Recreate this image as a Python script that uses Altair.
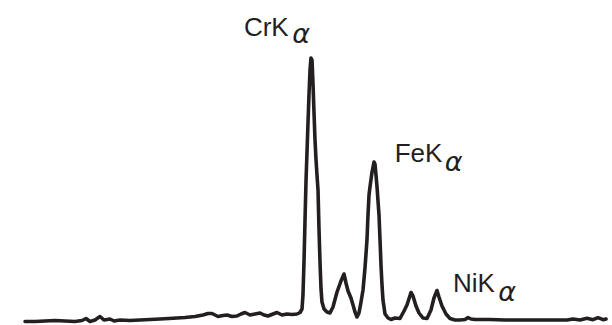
import altair as alt
import pandas as pd

# X-ray fluorescence spectrum: energy (keV) vs intensity (a.u.)
energy = [
    0.942, 1.098, 1.254, 1.410, 1.567, 1.723, 1.832, 1.895, 1.957, 2.035,
    2.114, 2.176, 2.270, 2.332, 2.426, 2.582, 2.739, 2.895, 3.051, 3.254,
    3.442, 3.598, 3.723, 3.801, 3.864, 3.957, 4.035, 4.098, 4.176, 4.254,
    4.317, 4.379, 4.457, 4.535, 4.614, 4.676, 4.739, 4.817, 4.879, 4.957,
    5.035, 5.114, 5.192, 5.239, 5.270, 5.285, 5.301, 5.317, 5.332, 5.348,
    5.364, 5.379, 5.395, 5.410, 5.426, 5.442, 5.457, 5.473, 5.489, 5.504,
    5.520, 5.535, 5.551, 5.567, 5.582, 5.614, 5.660, 5.707, 5.754, 5.817,
    5.879, 5.926, 5.957, 5.989, 6.035, 6.067, 6.098, 6.129, 6.160, 6.192,
    6.223, 6.254, 6.285, 6.301, 6.317, 6.332, 6.364, 6.395, 6.410, 6.426,
    6.442, 6.473, 6.489, 6.504, 6.520, 6.535, 6.567, 6.614, 6.660, 6.723,
    6.801, 6.864, 6.910, 6.973, 7.004, 7.051, 7.098, 7.160, 7.223, 7.285,
    7.332, 7.379, 7.410, 7.457, 7.520, 7.582, 7.660, 7.739, 7.817, 7.864,
    7.910, 7.973, 8.207, 8.442, 8.723, 8.989, 9.223, 9.410, 9.504, 9.614,
    9.723, 9.817, 9.895, 9.973, 10.020,
]
intensity = [
    15, 15, 20, 25, 20, 15, 25, 45, 15, 30,
    65, 30, 40, 20, 30, 25, 30, 35, 40, 47,
    55, 65, 80, 95, 95, 65, 75, 80, 65, 70,
    90, 105, 80, 90, 100, 80, 70, 90, 105, 80,
    90, 85, 90, 105, 140, 280, 610, 1030, 1410, 1710,
    2010, 2280, 2530, 2650, 2630, 2390, 2110, 1830, 1630, 1480,
    1330, 950, 610, 340, 210, 140, 110, 100, 160, 310,
    420, 490, 400, 320, 250, 180, 110, 60, 100, 210,
    330, 550, 830, 1080, 1280, 1360, 1510, 1610, 1590, 1480,
    1360, 1080, 830, 580, 380, 230, 90, 50, 35, 50,
    45, 120, 180, 305, 270, 170, 100, 50, 45, 130,
    250, 325, 260, 170, 90, 45, 30, 30, 35, 55,
    40, 35, 35, 30, 30, 30, 30, 30, 40, 30,
    47, 33, 53, 33, 40,
]

# Peak labels (main text and alpha subscript), anchored in data units
label_main = ["CrK", "FeK", "NiK"]
label_main_e = [4.712, 7.090, 7.955]
label_main_i = [2873, 1613, 313]
label_sub = ["α", "α", "α"]
label_sub_e = [5.258, 7.640, 8.476]
label_sub_i = [2800, 1525, 225]

spec = pd.DataFrame({"E": energy, "I": intensity, "order": list(range(len(energy)))})
main_df = pd.DataFrame({"E": label_main_e, "I": label_main_i, "t": label_main})
sub_df = pd.DataFrame({"E": label_sub_e, "I": label_sub_i, "t": label_sub})

xs = alt.Scale(domain=[0.551, 10.1135], nice=False, zero=False)
ys = alt.Scale(domain=[-20, 3230], nice=False, zero=False)
ink = "#231f20"

line = alt.Chart(spec).mark_line(
    color=ink, strokeWidth=3.6, strokeJoin="round", strokeCap="round"
).encode(
    x=alt.X("E:Q", scale=xs, axis=None),
    y=alt.Y("I:Q", scale=ys, axis=None),
    order="order:Q",
)

main_txt = alt.Chart(main_df).mark_text(
    font="Liberation Sans", fontSize=26, color=ink, align="center", baseline="alphabetic"
).encode(
    x=alt.X("E:Q", scale=xs, axis=None),
    y=alt.Y("I:Q", scale=ys, axis=None),
    text="t:N",
)

sub_txt = alt.Chart(sub_df).mark_text(
    font="DejaVu Sans", fontSize=27, fontStyle="italic", color=ink,
    align="center", baseline="alphabetic"
).encode(
    x=alt.X("E:Q", scale=xs, axis=None),
    y=alt.Y("I:Q", scale=ys, axis=None),
    text="t:N",
)

chart = alt.layer(line, main_txt, sub_txt).properties(
    width=612, height=325, padding=0, autosize=alt.AutoSizeParams(type="none"),
    background="white",
).configure_view(stroke=None)

chart.save("out.html", embed_options={"renderer": "svg", "actions": False})
